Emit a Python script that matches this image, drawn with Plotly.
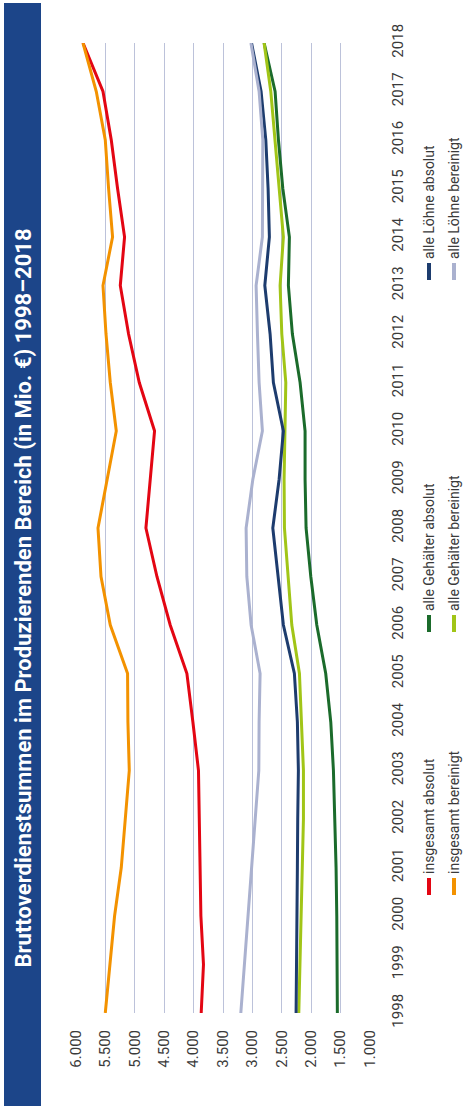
import plotly.graph_objects as go

years = list(range(1998, 2019))
insgesamt_absolut = [3871, 3832, 3876, 3888, 3900, 3917, 4012, 4114, 4398, 4624, 4811,
                     4738, 4664, 4924, 5106, 5247, 5174, 5293, 5400, 5541, 5881]
insgesamt_bereinigt = [5502, 5417, 5344, 5230, 5162, 5094, 5117, 5123, 5417, 5575, 5626,
                       5473, 5315, 5417, 5490, 5541, 5378, 5446, 5502, 5655, 5881]
gehaelter_absolut = [1555, 1555, 1565, 1577, 1594, 1622, 1667, 1753, 1905, 2007, 2087,
                     2104, 2104, 2189, 2320, 2388, 2371, 2483, 2557, 2614, 2801]
gehaelter_bereinigt = [2211, 2189, 2177, 2149, 2132, 2132, 2160, 2200, 2330, 2398, 2455,
                       2461, 2444, 2432, 2500, 2529, 2473, 2541, 2614, 2687, 2801]
loehne_absolut = [2257, 2246, 2235, 2235, 2229, 2218, 2235, 2286, 2473, 2557, 2653,
                  2546, 2473, 2643, 2699, 2789, 2711, 2733, 2772, 2852, 3015]
loehne_bereinigt = [3197, 3135, 3067, 3010, 2954, 2891, 2886, 2869, 3022, 3095, 3107,
                    2993, 2830, 2886, 2914, 2937, 2830, 2830, 2823, 2886, 3025]

value_ticks = [6000, 5500, 5000, 4500, 4000, 3500, 3000, 2500, 2000, 1500, 1000]
title_text = "Bruttoverdienstsummen im Produzierenden Bereich (in Mio. €) 1998–2018"

series = [
    ("insgesamt absolut", insgesamt_absolut, "#e30613"),
    ("insgesamt bereinigt", insgesamt_bereinigt, "#f39200"),
    ("alle Gehälter absolut", gehaelter_absolut, "#1b6b2b"),
    ("alle Gehälter bereinigt", gehaelter_bereinigt, "#a1c517"),
    ("alle Löhne absolut", loehne_absolut, "#1d3c6e"),
    ("alle Löhne bereinigt", loehne_bereinigt, "#aab1cf"),
]

W, H = 464, 1106
L, R, T, B = 76, 94, 43, 93
PW, PH = W - L - R, H - T - B

def px(x):
    return (x - L) / PW

def py(y):
    return (H - B - y) / PH

FONT = "Roboto, Liberation Sans, sans-serif"

fig = go.Figure()
for name, vals, col in series:
    fig.add_trace(go.Scatter(x=vals, y=years, mode="lines", name=name,
                             line=dict(color=col, width=3), showlegend=False))

shapes = [dict(type="rect", xref="paper", yref="paper", x0=px(4), x1=px(41), y0=py(1106), y1=py(3),
               fillcolor="#1c4589", line=dict(width=0), layer="below")]
annotations = [dict(text="<b>" + title_text + "</b>", xref="paper", yref="paper",
                    x=px(22.5), y=py(598), textangle=-90, showarrow=False,
                    xanchor="center", yanchor="middle",
                    font=dict(family=FONT, size=22, color="white"))]

# legend built from rotated annotations and line samples
legend_pos = [(429, 895), (454, 895), (429, 632), (454, 632), (429, 280), (454, 280)]
for (name, vals, col), (lx, ly) in zip(series, legend_pos):
    shapes.append(dict(type="line", xref="paper", yref="paper", x0=px(lx), x1=px(lx),
                       y0=py(ly), y1=py(ly - 17), line=dict(color=col, width=4)))
    annotations.append(dict(text=name, xref="paper", yref="paper", x=px(lx), y=py(ly - 19),
                            textangle=-90, showarrow=False, xanchor="center", yanchor="bottom",
                            font=dict(family=FONT, size=14, color="#3a3a3a")))

fig.update_layout(
    width=W, height=H,
    margin=dict(l=L, r=R, t=T, b=B, pad=0),
    paper_bgcolor="white", plot_bgcolor="white",
    separators=",.",
    shapes=shapes, annotations=annotations,
    xaxis=dict(range=[6000, 1000], tickvals=value_ticks, tickformat=",.0f",
               showgrid=True, gridcolor="#bcc2da", gridwidth=1, zeroline=False,
               showline=False, ticks="", tickangle=-90, ticklabelstandoff=13,
               automargin=False,
               tickfont=dict(family=FONT, size=15, color="#3a3a3a")),
    yaxis=dict(range=[1998, 2018], tickvals=years, side="right", showgrid=False,
               zeroline=False, showline=False, ticks="", tickangle=-90,
               ticklabelstandoff=17, automargin=False,
               tickfont=dict(family=FONT, size=15, color="#3a3a3a")),
)

fig.write_html("out.html", config={"displayModeBar": False},
               post_script="document.body.style.margin='0';")
